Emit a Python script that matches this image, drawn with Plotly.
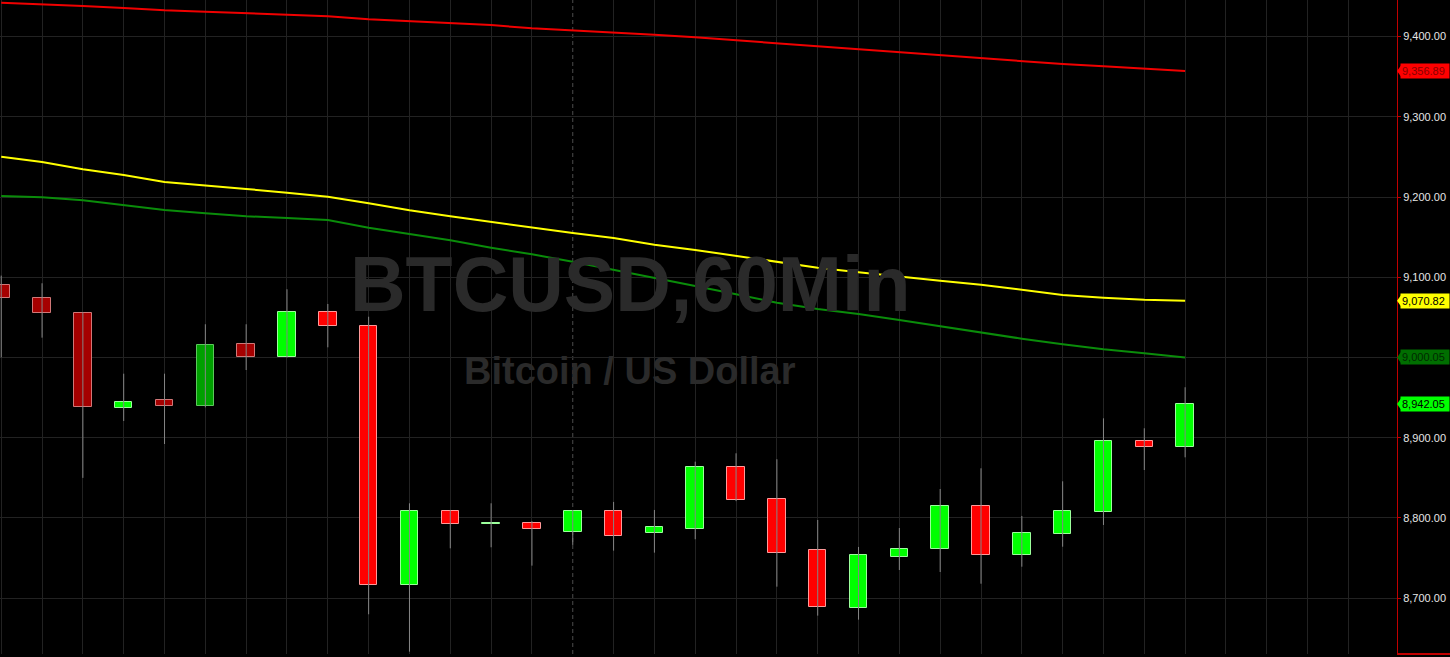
import plotly.graph_objects as go

# ---------------- data ----------------
bar_index = list(range(30))
open_ = [9090.7, 9074.5, 9055.8, 8937.4, 8946.7, 8939.6, 9016.5, 9000.6, 9057.1, 9039.6,
         8716.1, 8808.7, 8793.0, 8793.8, 8782.2, 8808.7, 8781.0, 8786.7, 8863.2, 8823.3,
         8759.7, 8688.2, 8751.8, 8761.8, 8814.6, 8753.5, 8780.5, 8807.8, 8895.6, 8888.8]
high = [9102.0, 9092.5, 9056.5, 8979.8, 8979.8, 9041.4, 9041.4, 9085.0, 9066.7, 9050.8,
        8818.3, 8810.0, 8818.3, 8796.0, 8810.0, 8820.0, 8810.0, 8870.2, 8880.6, 8873.2,
        8797.5, 8763.9, 8787.5, 8836.1, 8861.9, 8802.5, 8845.7, 8924.2, 8911.8, 8962.9]
low = [9000.2, 9024.7, 8850.0, 8920.9, 8892.2, 8937.9, 8984.4, 9000.0, 9012.7, 8680.0,
       8633.4, 8762.2, 8763.5, 8740.6, 8766.4, 8759.3, 8756.8, 8773.5, 8821.0, 8714.4,
       8678.3, 8673.3, 8735.2, 8732.7, 8718.1, 8739.3, 8764.2, 8791.3, 8859.8, 8875.6]
close = [9074.1, 9055.1, 8938.7, 8944.2, 8940.0, 9016.0, 9000.2, 9057.1, 9039.2, 8716.1,
         8808.7, 8792.1, 8793.6, 8786.7, 8808.7, 8778.0, 8788.4, 8863.2, 8822.4, 8756.8,
         8689.5, 8753.5, 8761.0, 8814.6, 8753.5, 8781.0, 8808.3, 8895.6, 8888.8, 8942.05]
shade = ["dark", "dark", "dark", "bright", "dark", "dark", "dark", "bright", "bright", "bright",
         "bright", "bright", "bright", "bright", "bright", "bright", "bright", "bright", "bright", "bright",
         "bright", "bright", "bright", "bright", "bright", "bright", "bright", "bright", "bright", "bright"]

ma_red = [9442.1, 9440.5, 9438.0, 9435.5, 9432.6, 9430.9, 9428.9, 9426.8, 9425.2, 9421.4,
          9418.9, 9416.4, 9414.3, 9410.2, 9407.7, 9405.2, 9402.2, 9399.0, 9395.3, 9392.3,
          9387.8, 9384.0, 9380.3, 9376.9, 9373.2, 9369.5, 9365.7, 9362.9, 9359.9, 9356.89]
ma_yellow = [9250.2, 9243.6, 9234.5, 9227.4, 9218.7, 9214.6, 9210.0, 9205.4, 9200.4, 9192.1,
             9183.4, 9176.0, 9168.8, 9162.2, 9155.1, 9148.9, 9140.6, 9134.0, 9126.5, 9119.4,
             9111.9, 9106.2, 9100.7, 9095.7, 9090.7, 9084.1, 9077.9, 9074.5, 9072.0, 9070.82]
ma_green = [9201.2, 9199.6, 9195.9, 9190.0, 9183.8, 9179.7, 9176.0, 9173.8, 9171.3, 9161.7,
            9153.5, 9146.0, 9136.8, 9128.6, 9119.4, 9109.0, 9099.4, 9089.1, 9078.8, 9068.3,
            9060.4, 9054.2, 9046.7, 9038.9, 9031.4, 9023.4, 9016.5, 9010.2, 9005.2, 9000.05]

price_ticks = [8700, 8800, 8900, 9000, 9100, 9200, 9300, 9400]
session_break = 14
grid_slots = [i for i in range(34) if i != session_break]
title_text = "BTCUSD,60Min"
subtitle_text = "Bitcoin / US Dollar"

# ---------------- styling ----------------
fill_map = {("bright", True): "#00FF00", ("bright", False): "#FF0000",
            ("dark", True): "#00A000", ("dark", False): "#A50000"}
edge_map = {("bright", True): "#9CFF9C", ("bright", False): "#FF9A9A",
            ("dark", True): "#5CC85C", ("dark", False): "#D07878"}
up = [c >= o for o, c in zip(open_, close)]
fills = [fill_map[(s, u)] for s, u in zip(shade, up)]
edges = [edge_map[(s, u)] for s, u in zip(shade, up)]
body_base = [min(o, c) for o, c in zip(open_, close)]
body_len = [max(abs(c - o), 0.6) for o, c in zip(open_, close)]

wx, wy = [], []
for i, h, l in zip(bar_index, high, low):
    wx += [i, i, None]
    wy += [l, h, None]

fig = go.Figure()
fig.add_trace(go.Scatter(x=wx, y=wy, mode="lines",
                         line=dict(color="#858585", width=1), hoverinfo="skip"))
fig.add_trace(go.Bar(x=bar_index, y=body_len, base=body_base, width=0.43,
                     marker=dict(color=fills, line=dict(color=edges, width=1))))
fig.add_trace(go.Scatter(x=bar_index, y=ma_red, mode="lines",
                         line=dict(color="#F00000", width=2)))
fig.add_trace(go.Scatter(x=bar_index, y=ma_yellow, mode="lines",
                         line=dict(color="#FFFF00", width=2)))
fig.add_trace(go.Scatter(x=bar_index, y=ma_green, mode="lines",
                         line=dict(color="#0A8C0A", width=2)))

# watermark
wm_font = "Liberation Sans, Arial"
fig.add_annotation(text="<b>" + title_text + "</b>", xref="paper", yref="paper",
                   x=0.451, y=0.566, showarrow=False,
                   font=dict(family=wm_font, size=77, color="#2a2a2a"))
fig.add_annotation(text="<b>" + subtitle_text + "</b>", xref="paper", yref="paper",
                   x=0.451, y=0.433, showarrow=False,
                   font=dict(family=wm_font, size=38, color="#2a2a2a"))

# price tags on the right axis
tags = [(ma_red[-1], "#FF0000", "#8A0000"),
        (ma_yellow[-1], "#FFFF00", "#000000"),
        (ma_green[-1], "#006E00", "#002A00"),
        (close[-1], "#00FF00", "#000000")]
px_per_price = 1.2461
for val, bg, fg in tags:
    fig.add_annotation(text=f"{val:,.2f}", xref="paper", yref="y", x=1.0, y=val,
                       xanchor="left", yanchor="middle", xshift=3, showarrow=False,
                       bgcolor=bg, borderpad=1, width=46, align="left",
                       font=dict(family="Liberation Sans, Arial", size=11, color=fg))
    d = 7 * px_per_price
    fig.add_shape(type="path", xref="paper", yref="y",
                  path=f"M 1.0,{val} L 1.0036,{val + d} L 1.0036,{val - d} Z",
                  fillcolor=bg, line=dict(width=0))

# session separator
fig.add_shape(type="line", xref="x", yref="paper", x0=session_break, x1=session_break,
              y0=0, y1=1, line=dict(color="#4d4d4d", width=1, dash="4px,3px"), layer="below")
# bottom edge under price scale
fig.add_shape(type="line", xref="paper", yref="paper", x0=1.0, x1=1.04, y0=0, y1=0,
              line=dict(color="#C00000", width=2))

fig.update_layout(
    width=1450, height=657,
    margin=dict(l=0, r=53, t=0, b=3, pad=0),
    paper_bgcolor="#000000", plot_bgcolor="#000000",
    showlegend=False, bargap=0,
    xaxis=dict(range=[-0.03, 34.19], tickvals=grid_slots, showticklabels=False,
               showgrid=True, gridcolor="#222222", gridwidth=1, zeroline=False,
               ticks="", showline=False, fixedrange=True, automargin=False),
    yaxis=dict(range=[8630.5, 9445.5], side="right", tickvals=price_ticks,
               tickformat=",.2f", showgrid=True, gridcolor="#222222", gridwidth=1,
               zeroline=False, showline=True, linecolor="#C00000", linewidth=1,
               ticks="outside", ticklen=3, tickcolor="#C00000", automargin=False,
               tickfont=dict(family="Liberation Sans, Arial", size=11, color="#E6E6E6")),
)

fig.write_html("out.html", config={"displayModeBar": False},
               post_script="document.body.style.margin='0';document.body.style.padding='0';"
                           "document.body.style.background='#000';")
